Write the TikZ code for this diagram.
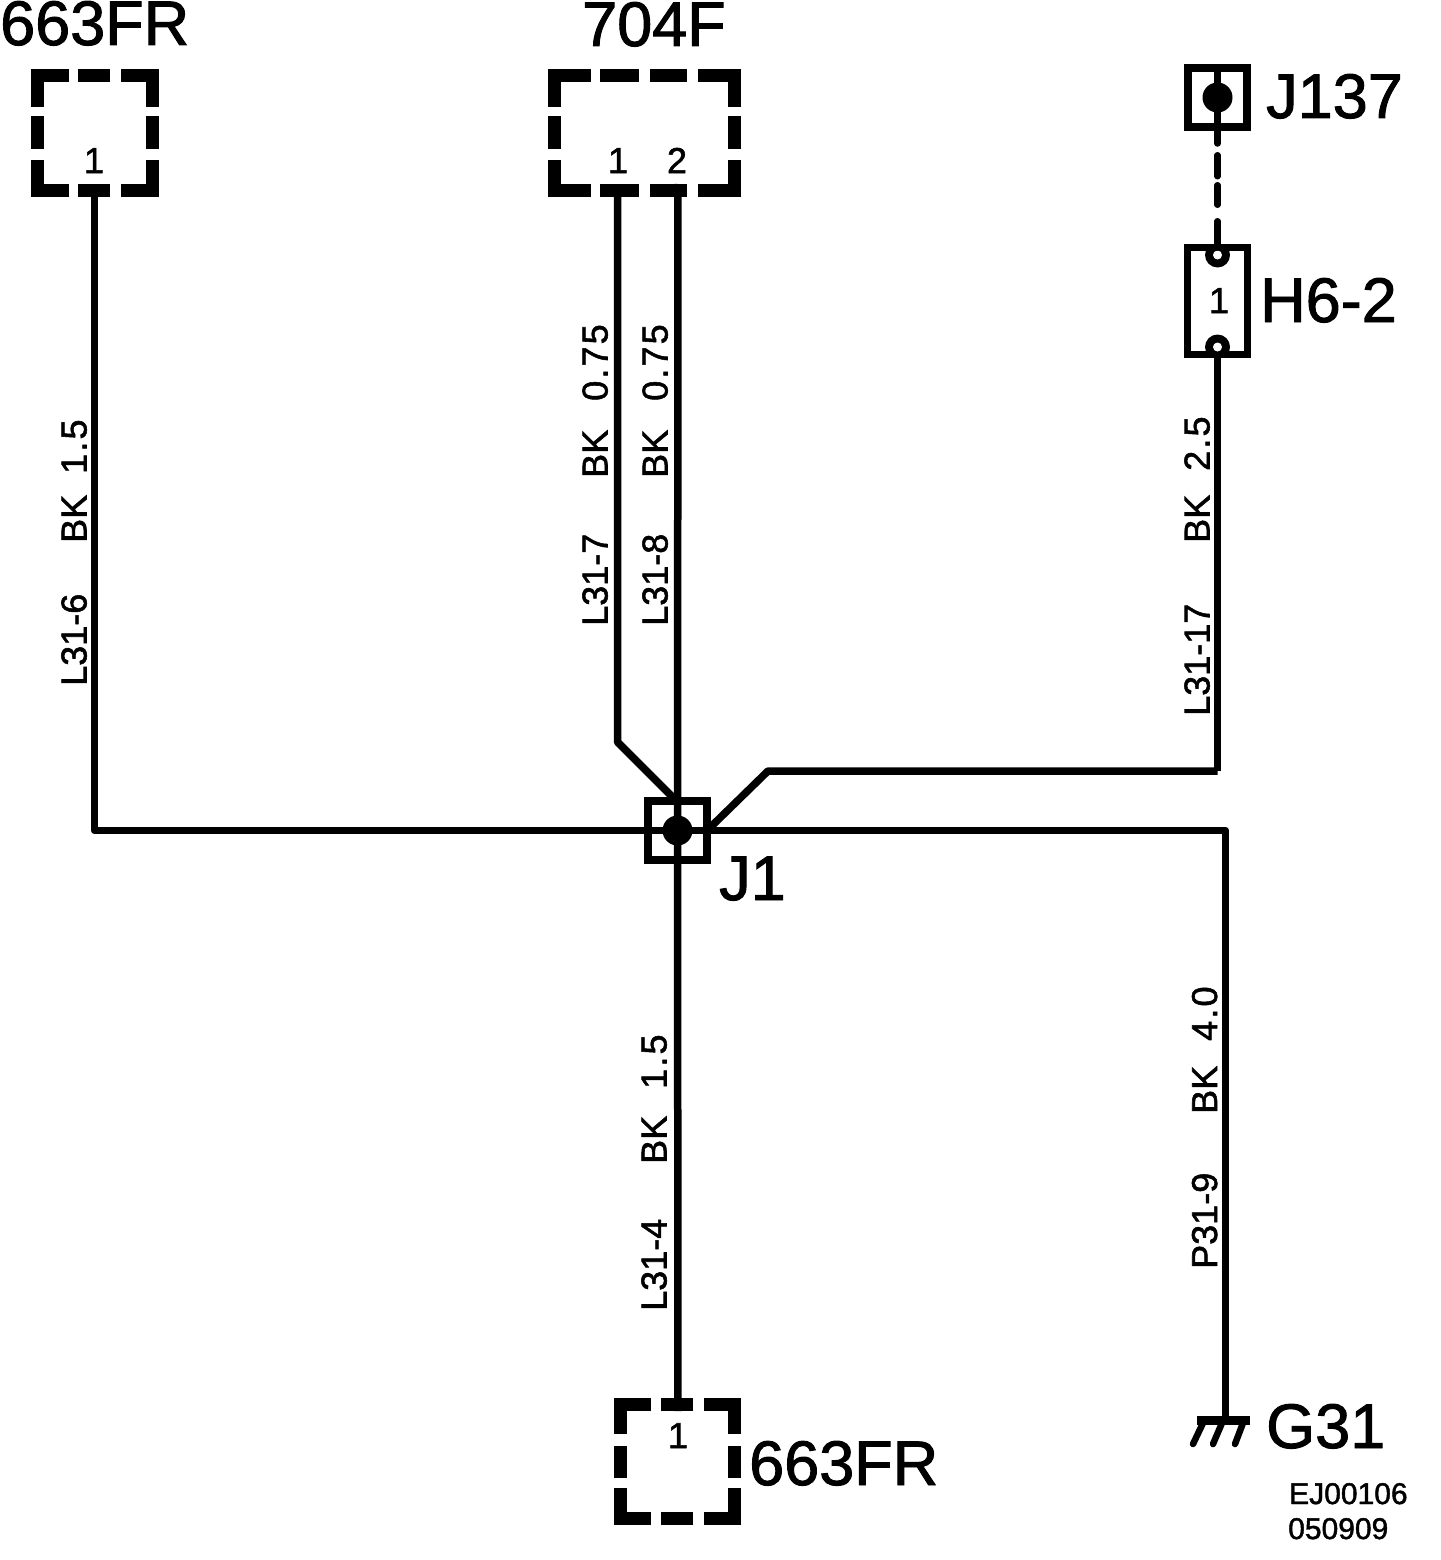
\documentclass[tikz,border=0pt]{standalone}
\usepackage{fontspec}
\setmainfont{Liberation Sans}[FakeBold=1.5]
\begin{document}
\begin{tikzpicture}[x=1pt,y=-1pt,
  wire/.style={line width=7.5pt,black,line join=round},
  dashseg/.style={line width=13pt,black,line cap=butt,miter limit=10},
  jbox/.style={draw=black,line width=8pt,fill=none,inner sep=0pt,minimum size=59pt,outer sep=0pt},
  bigtxt/.style={font=\fontsize{63}{63}\selectfont,anchor=base west,inner sep=0pt},
  pintxt/.style={font=\fontsize{36}{36}\selectfont,anchor=base,inner sep=0pt},
  wiretxt/.style={font=\fontsize{36}{36}\selectfont,anchor=base west,rotate=90,inner sep=0pt},
  gaugetxt/.style={wiretxt,font=\fontsize{36}{36}\selectfont\addfontfeature{LetterSpace=6}},
  codetxt/.style={font=\fontsize{30}{30}\selectfont,anchor=base west,inner sep=0pt}]
\useasboundingbox (0,0) rectangle (1440,1560);
\fill[white] (0,0) rectangle (1440,1560);
% pins and bends
\coordinate (pa) at (94.5,184);
\coordinate (pb) at (617.5,184);
\coordinate (pc) at (678,184);
\coordinate (pd) at (678,1411);
\coordinate (bendb) at (617.5,742);
\coordinate (bendr) at (768,771);
\coordinate (endr) at (1217.5,771);
\coordinate (endg) at (1225.5,830.5);
\coordinate (gnd) at (1225.5,1420);
% junction J1
\node[jbox] (j1) at (677.5,830.5) {};
\node[jbox] (j137) at (1217.5,97.5) {};
% wires
\draw[wire] (pa) -- (pa |- j1) -- (j1.center);
\draw[wire] (pb) -- (bendb) -- (677.5,802);
\draw[wire] (pc) -- (j1.center);
\draw[wire] (j1.center) -- (pd);
\draw[wire] (j1.east) ++(-2,2) -- (bendr) -- (endr);
\draw[wire] (j1.center) -- (endg) -- (gnd);
\fill (j1.center) circle[radius=15];
% J137
\draw[wire] (j137.north) -- (j137.south);
\fill (j137.center) circle[radius=15];
% H6-2 fuse
\node[draw=black,line width=7pt,inner sep=0pt,minimum width=60pt,minimum height=107pt,outer sep=0pt] (h6) at (1217.5,301) {};
\coordinate (fa) at (1217.5,255);
\coordinate (fb) at (1217.5,347);
\begin{scope}
\clip (h6.north west) rectangle (h6.south east);
\fill (fa) circle[radius=12.5];
\fill (fb) circle[radius=12.5];
\end{scope}
\fill[white] (fa) circle[radius=4.5];
\fill[white] (fb) circle[radius=4.5];
\draw[line width=6.5pt,line cap=round,dash pattern=on 16.5pt off 11.75pt on 21pt off 9pt on 19.5pt off 16.5pt on 40pt off 0pt] (j137.south) -- (fa |- h6.north);
\draw[wire] (fb |- h6.south) -- (endr);
% dashed connector boxes
\node[inner sep=0pt,minimum width=128pt,minimum height=128pt] (c663a) at (95,133) {};
\draw[dashseg] (69,75.5) -| (37.5,107);
\draw[dashseg] (78,75.5) -- (110,75.5);
\draw[dashseg] (121,75.5) -| (152.5,107);
\draw[dashseg] (37.5,116) -- (37.5,149);
\draw[dashseg] (152.5,116) -- (152.5,149);
\draw[dashseg] (37.5,160) |- (69,190.5);
\draw[dashseg] (78,190.5) -- (110,190.5);
\draw[dashseg] (152.5,160) |- (121,190.5);
\node[inner sep=0pt,minimum width=193pt,minimum height=128pt] (c704) at (644.5,133) {};
\draw[dashseg] (591,75.5) -| (554.5,107);
\draw[dashseg] (600,75.5) -- (639,75.5);
\draw[dashseg] (650,75.5) -- (687,75.5);
\draw[dashseg] (698,75.5) -| (734.5,107);
\draw[dashseg] (554.5,116) -- (554.5,149);
\draw[dashseg] (734.5,116) -- (734.5,149);
\draw[dashseg] (554.5,160) |- (591,190.5);
\draw[dashseg] (600,190.5) -- (639,190.5);
\draw[dashseg] (650,190.5) -- (687,190.5);
\draw[dashseg] (734.5,160) |- (698,190.5);
\node[inner sep=0pt,minimum width=127pt,minimum height=127pt] (c663b) at (677.5,1461.5) {};
\draw[dashseg] (651,1404.5) -| (620.5,1434);
\draw[dashseg] (661,1404.5) -- (693,1404.5);
\draw[dashseg] (704,1404.5) -| (734.5,1434);
\draw[dashseg] (620.5,1446) -- (620.5,1478);
\draw[dashseg] (734.5,1446) -- (734.5,1478);
\draw[dashseg] (620.5,1488) |- (651,1518.5);
\draw[dashseg] (661,1518.5) -- (693,1518.5);
\draw[dashseg] (734.5,1488) |- (704,1518.5);
% ground
\fill (1197,1416) -- (1250,1416) -- (1250,1425) -- (1197,1425) -- cycle;
\draw[line width=6.5pt,line cap=round] (1203,1423) -- (1193,1444);
\draw[line width=6.5pt,line cap=round] (1222,1423) -- (1213,1444);
\draw[line width=6.5pt,line cap=round] (1243,1423) -- (1235,1444);
% big labels
\node[bigtxt] (t1) at (0,45) {663FR};
\node[bigtxt] (t2) at (582,46) {704F};
\node[bigtxt] (t3) at (1266,118) {J137};
\node[bigtxt] (t4) at (1260,322) {H6-2};
\node[bigtxt] (t5) at (719,900) {J1};
\node[bigtxt] (t6) at (1266,1448) {G31};
\node[bigtxt] (t7) at (749,1485) {663FR};
\node[codetxt] (t8) at (1289,1504) {EJ00106};
\node[codetxt] (t9) at (1288,1539) {050909};
% pin numbers
\node[pintxt] (n1) at (94,173) {1};
\node[pintxt] (n2) at (618,173) {1};
\node[pintxt] (n3) at (677,173) {2};
\node[pintxt] (n4) at (678,1448) {1};
\node[pintxt] (n5) at (1219,313) {1};
% wire labels
\node[wiretxt] (a1) at (86.5,686) {L31-6};
\node[wiretxt] (a2) at (86.5,543) {BK};
\node[gaugetxt] (a3) at (86.5,474) {1.5};
\node[wiretxt] (b1) at (607.5,626) {L31-7};
\node[wiretxt] (b2) at (607.5,478) {BK};
\node[gaugetxt] (b3) at (607.5,401) {0.75};
\node[wiretxt] (c1) at (667.5,626) {L31-8};
\node[wiretxt] (c2) at (667.5,478) {BK};
\node[gaugetxt] (c3) at (667.5,401) {0.75};
\node[wiretxt] (d1) at (1209.5,716) {L31-17};
\node[wiretxt] (d2) at (1209.5,543) {BK};
\node[gaugetxt] (d3) at (1209.5,471) {2.5};
\node[wiretxt] (e1) at (666.5,1311) {L31-4};
\node[wiretxt] (e2) at (666.5,1164) {BK};
\node[gaugetxt] (e3) at (666.5,1089) {1.5};
\node[wiretxt] (f1) at (1217,1269) {P31-9};
\node[wiretxt] (f2) at (1217,1114) {BK};
\node[gaugetxt] (f3) at (1217,1041) {4.0};
\end{tikzpicture}
\end{document}
